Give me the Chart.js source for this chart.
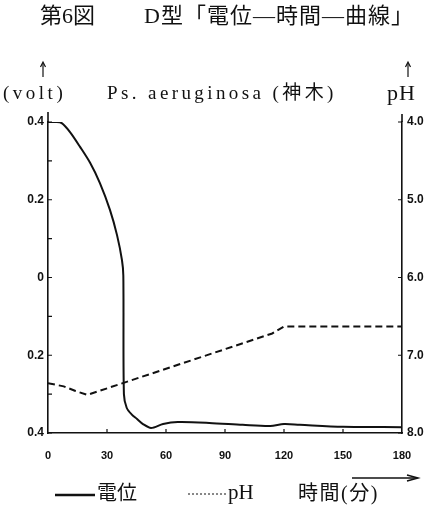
<!DOCTYPE html>
<html>
<head>
<meta charset="utf-8">
<script src="https://cdn.jsdelivr.net/npm/chart.js@4"></script>
<style>
  body { margin: 0; background: #fff; }
  #wrap { position: relative; width: 432px; height: 510px; overflow: hidden; }
  #myChart { position: absolute; left: 0; top: 0; }
  .t { position: absolute; white-space: nowrap; line-height: 1; color: #111;
       font-family: "Liberation Serif", "Noto Sans CJK JP", serif; }
  svg { position: absolute; left: 0; top: 0; }
</style>
</head>
<body>
<div id="wrap">
  <canvas id="myChart" width="432" height="510"></canvas>
  <div class="t" style="left:40px;top:5px;font-size:22px;">第6図</div>
  <div class="t" style="left:144px;top:5px;font-size:22px;letter-spacing:1px;">D型「電位―時間―曲線」</div>
  <div class="t" style="left:3px;top:83px;font-size:19px;letter-spacing:3.5px;">(volt)</div>
  <div class="t" style="left:107px;top:83px;font-size:19px;letter-spacing:3.4px;">Ps. aeruginosa (神木)</div>
  <div class="t" style="left:387px;top:82px;font-size:22px;letter-spacing:1px;">pH</div>
  <div class="t" style="left:97px;top:483px;font-size:20px;">電位</div>
  <div class="t" style="left:228px;top:482px;font-size:21px;">pH</div>
  <div class="t" style="left:298px;top:483px;font-size:20px;letter-spacing:1.5px;">時間(分)</div>
  <svg width="432" height="510">
    <line x1="43" y1="63" x2="43" y2="77" stroke="#111" stroke-width="1.2"/>
    <polyline points="40.5,67 43,62 45.5,67" fill="none" stroke="#111" stroke-width="1.2"/>
    <line x1="408" y1="63" x2="408" y2="77" stroke="#111" stroke-width="1.2"/>
    <polyline points="405.5,67 408,62 410.5,67" fill="none" stroke="#111" stroke-width="1.2"/>
    <line x1="55" y1="495" x2="95" y2="495" stroke="#111" stroke-width="2.5"/>
    <line x1="188" y1="494" x2="226" y2="494" stroke="#111" stroke-width="1" stroke-dasharray="2,2"/>
    <line x1="352" y1="478" x2="416" y2="478" stroke="#111" stroke-width="1.5"/>
    <polyline points="407,475 418,478 407,481" fill="none" stroke="#111" stroke-width="1.5"/>
  </svg>
</div>
<script>
// time in minutes
const potTime = [0, 4, 7, 11.2, 16.3, 21.4, 26.4, 31.5, 35.1, 37.6, 38.3, 38.6, 40, 42.5, 45.3, 48.3, 52.4, 58.5, 66, 82, 99, 113, 120, 128, 150, 180];
// potential in volt
const potValue = [0.4, 0.4, 0.397, 0.374, 0.336, 0.295, 0.243, 0.174, 0.109, 0.045, 0.005, -0.3, -0.335, -0.352, -0.364, -0.377, -0.387, -0.377, -0.372, -0.374, -0.379, -0.382, -0.377, -0.379, -0.384, -0.385];

const phTime = [0, 8, 14, 20, 114, 120, 180];
const phValue = [7.36, 7.4, 7.46, 7.51, 6.72, 6.63, 6.63];

const xTicks = [0, 30, 60, 90, 120, 150, 180];
const phTicks = [4, 5, 6, 7, 8];

const ink = "#111";

// ticks drawn inward and axes extended upward
const innerTicks = {
  id: "innerTicks",
  afterDraw(chart) {
    const { ctx, chartArea: a, scales } = chart;
    ctx.save();
    ctx.strokeStyle = ink;
    ctx.lineWidth = 1.2;
    ctx.beginPath();
    scales.y.ticks.forEach((t) => {
      const py = scales.y.getPixelForValue(t.value);
      ctx.moveTo(a.left, py);
      ctx.lineTo(a.left + 4, py);
    });
    phTicks.forEach((v) => {
      const py = scales.y1.getPixelForValue(v);
      ctx.moveTo(a.right - 4, py);
      ctx.lineTo(a.right, py);
    });
    xTicks.slice(1, -1).forEach((v) => {
      const px = scales.x.getPixelForValue(v);
      ctx.moveTo(px, a.bottom);
      ctx.lineTo(px, a.bottom - 4);
    });
    ctx.stroke();
    ctx.lineWidth = 1.6;
    ctx.beginPath();
    ctx.moveTo(a.left, a.top);
    ctx.lineTo(a.left, a.top - 10);
    ctx.moveTo(a.right, a.top);
    ctx.lineTo(a.right, a.top - 8);
    ctx.stroke();
    ctx.restore();
  },
};

const tickFont = { family: "Liberation Sans", size: 12, weight: "bold" };

new Chart(document.getElementById("myChart").getContext("2d"), {
  type: "line",
  data: {
    datasets: [
      {
        label: "電位",
        data: potTime.map((t, i) => ({ x: t, y: potValue[i] })),
        yAxisID: "y",
        borderColor: ink,
        borderWidth: 2,
        pointRadius: 0,
        tension: 0.3,
      },
      {
        label: "pH",
        data: phTime.map((t, i) => ({ x: t, y: phValue[i] })),
        yAxisID: "y1",
        borderColor: ink,
        borderWidth: 2,
        borderDash: [7, 4],
        pointRadius: 0,
        tension: 0,
      },
    ],
  },
  options: {
    responsive: false,
    animation: false,
    devicePixelRatio: 1,
    layout: { padding: { top: 122, left: 0, right: 0, bottom: 0 } },
    plugins: { legend: { display: false }, tooltip: { enabled: false } },
    scales: {
      x: {
        type: "linear",
        min: 0,
        max: 180,
        afterFit: (s) => { s.height = 77; },
        afterBuildTicks: (s) => { s.ticks = xTicks.map((v) => ({ value: v })); },
        ticks: { color: ink, font: { ...tickFont, size: 11 }, padding: 16, autoSkip: false, maxRotation: 0 },
        grid: { drawOnChartArea: false, drawTicks: false },
        border: { display: true, color: ink, width: 1.6 },
      },
      y: {
        position: "left",
        min: -0.4,
        max: 0.4,
        afterFit: (s) => { s.width = 48; },
        ticks: {
          stepSize: 0.1,
          autoSkip: false,
          color: ink,
          font: tickFont,
          padding: 4,
          callback: (v) => {
            const k = Math.round(v * 10);
            if (k % 2 !== 0) return "";
            return k === 0 ? "0" : (Math.abs(k) / 10).toFixed(1);
          },
        },
        grid: { drawOnChartArea: false, drawTicks: false },
        border: { display: true, color: ink, width: 1.6 },
      },
      y1: {
        position: "right",
        min: 4,
        max: 8,
        reverse: true,
        afterFit: (s) => { s.width = 30; },
        ticks: { stepSize: 1, color: ink, font: tickFont, padding: 5, callback: (v) => v.toFixed(1) },
        grid: { drawOnChartArea: false, drawTicks: false },
        border: { display: true, color: ink, width: 1.6 },
      },
    },
  },
  plugins: [innerTicks],
});
</script>
</body>
</html>
